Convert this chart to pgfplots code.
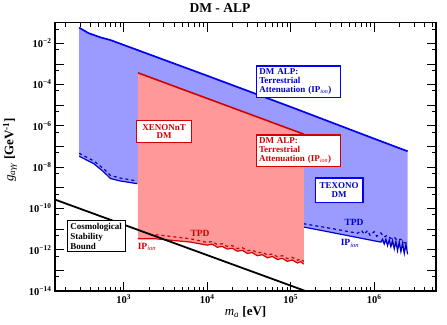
\documentclass[border=0pt]{standalone}
\usepackage{pgfplots}
\pgfplotsset{compat=1.18}
\usepackage{fontspec}
\setmainfont{Liberation Serif}
\definecolor{bluefill}{RGB}{155,155,255}
\definecolor{redfill}{RGB}{255,153,153}
\definecolor{blueline}{RGB}{0,0,245}
\definecolor{darkblue}{RGB}{0,0,200}
\definecolor{redline}{RGB}{210,0,0}
\newcommand{\tl}[1]{\textbf{10\textsuperscript{#1}}}
\newcommand{\ipion}{\textbf{IP}\textsubscript{\textit{\mdseries ion}}}
\begin{document}
\begin{tikzpicture}
\useasboundingbox (-55pt,-33pt) rectangle (392pt,291pt);
\begin{axis}[
  scale only axis, width=381pt, height=268.3pt,
  xmode=log, ymode=log,
  xmin=150, xmax=5.5e6, ymin=1e-14, ymax=1e-1,
  xtick={1e3,1e4,1e5,1e6},
  xticklabels={\tl{3},\tl{4},\tl{5},\tl{6}},
  minor xtick={200,300,400,500,600,700,800,900,2000,3000,4000,5000,6000,7000,8000,9000,2e4,3e4,4e4,5e4,6e4,7e4,8e4,9e4,2e5,3e5,4e5,5e5,6e5,7e5,8e5,9e5,2e6,3e6,4e6,5e6},
  ytick={1e-14,1e-13,1e-12,1e-11,1e-10,1e-9,1e-8,1e-7,1e-6,1e-5,1e-4,1e-3,1e-2},
  yticklabels={\tl{−14},{},\tl{−12},{},\tl{−10},{},\tl{−8},{},\tl{−6},{},\tl{−4},{},\tl{−2}},
  minor ytick={5e-14,5e-13,5e-12,5e-11,5e-10,5e-9,5e-8,5e-7,5e-6,5e-5,5e-4,5e-3,5e-2},
  tick align=inside,
  major tick length=9pt, minor tick length=4.5pt,
  every tick/.style={black, line width=0.8pt},
  axis line style={line width=1.5pt},
  ticklabel style={font=\fontsize{10.5}{12}\selectfont},
  title={\textbf{DM - ALP}},
  title style={font=\fontsize{13.5}{15}\selectfont, at={(0.433,1.032)}, anchor=center},
  xlabel={\textit{m}\textsubscript{\textit{a}} \textbf{[eV]}},
  xlabel style={font=\fontsize{13}{15}\selectfont, at={(0.5,-0.078)}, anchor=center},
  ylabel={\textit{g}\textsubscript{\textit{aγγ}} \textbf{[GeV\textsuperscript{-1}]}},
  ylabel style={font=\fontsize{13}{15}\selectfont, at={(-0.118,0.526)}, anchor=center},
]
% Blue region (TEXONO / DM ALP terrestrial attenuation)
\addplot[fill=bluefill, draw=none] coordinates {
 (292,0.0575) (380,0.0309) (525,0.0195) (692,0.01445) (1e3,8.32e-3) (1e4,2.69e-4) (1e5,8.32e-6) (1e6,2.40e-7) (2.512e6,5.89e-8)
 (2.512e6,1.0e-12) (1.202e6,2.34e-12) (6.31e5,3.89e-12) (3.162e5,6.76e-12) (1.422e5,1.26e-11)
 (1445,1.585e-9) (912,2.14e-9) (692,2.82e-9) (575,5.89e-9) (437,1.48e-8) (292,3.39e-8)
} -- cycle;
\addplot[blueline, line width=1.7pt] coordinates {
 (292,0.0575) (380,0.0309) (525,0.0195) (692,0.01445) (1e3,8.32e-3) (1e4,2.69e-4) (1e5,8.32e-6) (1e6,2.40e-7) (2.512e6,5.89e-8)
};
% TEXONO IP_ion (solid) and TPD (dashed)
\addplot[darkblue, line width=1.2pt] coordinates {
 (292,3.39e-8) (437,1.48e-8) (575,5.89e-9) (692,2.82e-9) (912,2.14e-9) (1445,1.585e-9)
};
\addplot[darkblue, line width=1.2pt, dashed] coordinates {
 (292,4.68e-8) (437,2.0e-8) (575,8.32e-9) (692,3.98e-9) (912,2.95e-9) (1445,2.14e-9)
};
\addplot[darkblue, line width=1.2pt] coordinates {
 (1.422e5,1.26e-11) (3.162e5,6.76e-12) (6.31e5,3.89e-12) (1.202e6,2.34e-12)
 (1.259e6,3.2e-12) (1.318e6,1.9e-12) (1.380e6,3.3e-12) (1.445e6,1.6e-12) (1.514e6,3.0e-12) (1.585e6,1.4e-12)
 (1.660e6,2.8e-12) (1.738e6,1.1e-12) (1.820e6,2.5e-12) (1.905e6,9.0e-13) (1.995e6,2.4e-12)
 (2.089e6,8.0e-13) (2.188e6,2.1e-12) (2.291e6,6.5e-13) (2.399e6,1.8e-12) (2.512e6,6.0e-13)
};
\addplot[darkblue, line width=1.2pt, dashed] coordinates {
 (1.422e5,1.82e-11) (3.162e5,1.05e-11) (6.31e5,6.31e-12) (7.08e5,8.5e-12) (7.59e5,5.62e-12)
 (8.32e5,8.5e-12) (8.91e5,5.01e-12) (1e6,7.5e-12) (1.072e6,4.47e-12) (1.202e6,6.5e-12)
 (1.318e6,4.2e-12) (1.445e6,5.0e-12) (1.585e6,3.5e-12) (1.738e6,4.0e-12) (1.905e6,2.8e-12) (2.089e6,3.2e-12) (2.291e6,2.2e-12) (2.512e6,2.0e-12)
};
% Red region (XENONnT)
\addplot[fill=redfill, draw=none] coordinates {
 (1479,3.72e-4) (1.435e5,3.98e-7) (1.435e5,2.0e-13)
 (1.318e5,2.63e-13) (1.202e5,2.29e-13) (1.047e5,3.16e-13) (9.120e4,2.75e-13) (7.943e4,3.80e-13) (6.918e4,3.39e-13)
 (6.026e4,4.68e-13) (5.248e4,4.07e-13) (4.571e4,5.75e-13) (3.981e4,5.13e-13) (3.467e4,7.24e-13) (3.020e4,6.61e-13)
 (2.630e4,9.33e-13) (2.291e4,8.51e-13) (1.995e4,1.175e-12) (1.738e4,1.072e-12) (1.514e4,1.445e-12) (1.318e4,1.318e-12)
 (1.148e4,1.862e-12) (1e4,1.660e-12) (6310,2.34e-12) (2400,3.39e-12) (1479,3.39e-12)
} -- cycle;
\addplot[redline, line width=1.6pt] coordinates {(1479,3.72e-4) (1.435e5,3.98e-7)};
\addplot[redline, line width=1.2pt] coordinates {
 (1479,3.39e-12) (2400,3.39e-12) (6310,2.34e-12) (1e4,1.660e-12) (1.148e4,1.862e-12) (1.318e4,1.318e-12)
 (1.514e4,1.445e-12) (1.738e4,1.072e-12) (1.995e4,1.175e-12) (2.291e4,8.51e-13) (2.630e4,9.33e-13)
 (3.020e4,6.61e-13) (3.467e4,7.24e-13) (3.981e4,5.13e-13) (4.571e4,5.75e-13) (5.248e4,4.07e-13)
 (6.026e4,4.68e-13) (6.918e4,3.39e-13) (7.943e4,3.80e-13) (9.120e4,2.75e-13) (1.047e5,3.16e-13)
 (1.202e5,2.29e-13) (1.318e5,2.63e-13) (1.435e5,2.0e-13)
};
\addplot[redline, line width=1.2pt, dashed] coordinates {
 (2400,5.37e-12) (6310,3.39e-12) (1e4,2.24e-12) (1.148e4,2.51e-12) (1.318e4,1.78e-12) (1.514e4,1.95e-12)
 (1.738e4,1.445e-12) (1.995e4,1.585e-12) (2.291e4,1.148e-12) (2.630e4,1.259e-12) (3.020e4,8.91e-13)
 (3.467e4,9.77e-13) (3.981e4,6.92e-13) (4.571e4,7.76e-13) (5.248e4,5.50e-13) (6.026e4,6.31e-13)
 (6.918e4,4.57e-13) (7.943e4,5.13e-13) (9.120e4,3.72e-13) (1.047e5,4.27e-13) (1.202e5,3.09e-13)
 (1.318e5,3.55e-13) (1.435e5,2.69e-13)
};
% Cosmological stability bound
\addplot[black, line width=1.8pt] coordinates {(150,2.69e-10) (1.5e5,1e-14)};
\end{axis}
% Labels (1pt = 1px; origin at axis lower-left corner)
\node[draw=blueline, line width=1.3pt, fill=white, text=darkblue, align=left, text width=79pt, inner sep=2.5pt,
  font=\fontsize{9}{9.2}\selectfont\bfseries] at (243.8pt,209.3pt)
  {DM ALP:\\Terrestrial\\Attenuation (\ipion)};
\node[draw=redline, line width=1.3pt, fill=white, text=redline, align=left, text width=79pt, inner sep=2.5pt,
  font=\fontsize{9}{9.2}\selectfont\bfseries] at (243.5pt,140.3pt)
  {DM ALP:\\Terrestrial\\Attenuation (\ipion)};
\node[draw=redline, line width=1.3pt, fill=white, text=redline, align=center, minimum width=55pt, minimum height=21.6pt, inner sep=1.5pt,
  font=\fontsize{9}{8.5}\selectfont\bfseries] at (109.2pt,159.5pt) {XENONnT\\DM};
\node[draw=blueline, line width=1.3pt, fill=white, text=darkblue, align=center, minimum width=47.7pt, minimum height=24.7pt, inner sep=1.5pt,
  font=\fontsize{9}{9.3}\selectfont\bfseries] at (284.2pt,100.7pt) {TEXONO\\DM};
\node[draw=black, line width=1.3pt, fill=white, text=black, align=left, text width=53pt, inner sep=2.5pt,
  font=\fontsize{9}{10}\selectfont\bfseries] at (41.8pt,55pt) {Cosmological\\Stability\\Bound};
\node[text=redline, font=\fontsize{9.5}{10}\selectfont\bfseries] at (145pt,57.7pt) {TPD};
\node[text=redline, font=\fontsize{9.5}{10}\selectfont] at (92pt,44.3pt) {\ipion};
\node[text=darkblue, font=\fontsize{9.5}{10}\selectfont\bfseries] at (299pt,68.7pt) {TPD};
\node[text=darkblue, font=\fontsize{9.5}{10}\selectfont] at (295pt,47.7pt) {\ipion};
\end{tikzpicture}
\end{document}
